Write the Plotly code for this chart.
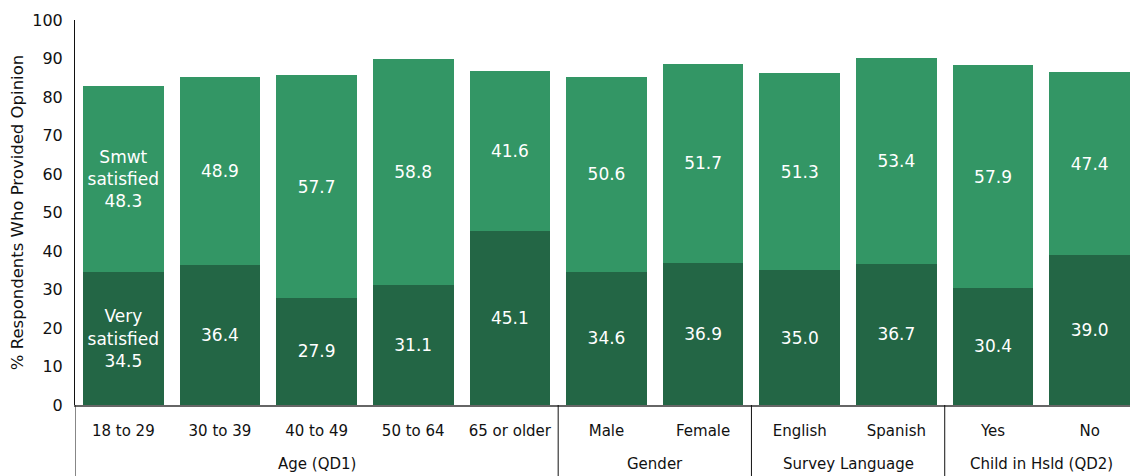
import plotly.graph_objects as go

groups = ["Age (QD1)"] * 5 + ["Gender"] * 2 + ["Survey Language"] * 2 + ["Child in Hsld (QD2)"] * 2
categories = ["18 to 29", "30 to 39", "40 to 49", "50 to 64", "65 or older",
              "Male", "Female", "English", "Spanish", "Yes", "No"]
very_satisfied = [34.5, 36.4, 27.9, 31.1, 45.1, 34.6, 36.9, 35.0, 36.7, 30.4, 39.0]
smwt_satisfied = [48.3, 48.9, 57.7, 58.8, 41.6, 50.6, 51.7, 51.3, 53.4, 57.9, 47.4]
series_names = ["Very<br>satisfied", "Smwt<br>satisfied"]
yticks = list(range(0, 101, 10))

FONT = "DejaVu Sans"
TXT = "#111"


def labels(name, vals):
    out = [f"{v:.1f}" for v in vals]
    out[0] = f"{name}<br>{out[0]}"
    return out


fig = go.Figure()
fig.add_trace(go.Bar(
    x=categories, y=very_satisfied,
    marker=dict(color="#236645", line=dict(width=0)),
    text=labels(series_names[0], very_satisfied),
    textposition="inside", insidetextanchor="middle",
    textfont=dict(color="white", size=17, family=FONT),
    textangle=0, hoverinfo="skip",
))
fig.add_trace(go.Bar(
    x=categories, y=smwt_satisfied,
    marker=dict(color="#339665", line=dict(width=0)),
    text=labels(series_names[1], smwt_satisfied),
    textposition="inside", insidetextanchor="middle",
    textfont=dict(color="white", size=17, family=FONT),
    textangle=0, hoverinfo="skip",
))

# group labels and dividers, derived from the groups list
runs = []  # (name, start index, end index)
for i, g in enumerate(groups):
    if runs and runs[-1][0] == g:
        runs[-1][2] = i
    else:
        runs.append([g, i, i])

annotations = []
shapes = []
for name, s, e in runs:
    annotations.append(dict(
        x=(s + e) / 2, xref="x", y=-0.153, yref="paper",
        text=name, showarrow=False, xanchor="center", yanchor="middle",
        font=dict(size=15, family=FONT, color=TXT),
    ))
    shapes.append(dict(
        type="line", xref="x", yref="paper", x0=s - 0.5, x1=s - 0.5, y0=0, y1=-0.19,
        line=dict(color=TXT, width=1),
    ))

# page body has an 8px default margin, so the figure is sized/offset to compensate
fig.update_layout(
    barmode="stack",
    bargap=0.165,
    width=1130, height=468,
    margin=dict(l=67, r=0, t=12, b=71, autoexpand=False),
    paper_bgcolor="white", plot_bgcolor="white",
    showlegend=False,
    uniformtext=dict(mode=False),
    font=dict(family=FONT, size=15, color=TXT),
    annotations=annotations,
    shapes=shapes,
    xaxis=dict(
        type="category",
        categoryorder="array", categoryarray=categories,
        range=[-0.5, 10.5],
        showline=True, linecolor="#666", linewidth=1.5,
        showgrid=False, ticks="outside", ticklen=11, tickcolor="rgba(0,0,0,0)",
        tickfont=dict(size=15, family=FONT, color=TXT),
        automargin=False,
    ),
    yaxis=dict(
        range=[0, 100],
        tickvals=yticks,
        showline=True, linecolor=TXT, linewidth=1,
        showgrid=False, zeroline=False,
        ticks="outside", ticklen=8, tickcolor="rgba(0,0,0,0)",
        tickfont=dict(size=16, family=FONT, color=TXT),
        title=dict(text="% Respondents Who Provided Opinion",
                   font=dict(size=16.5, family=FONT, color=TXT), standoff=6),
        automargin=False,
    ),
)

fig.write_html("out.html")
